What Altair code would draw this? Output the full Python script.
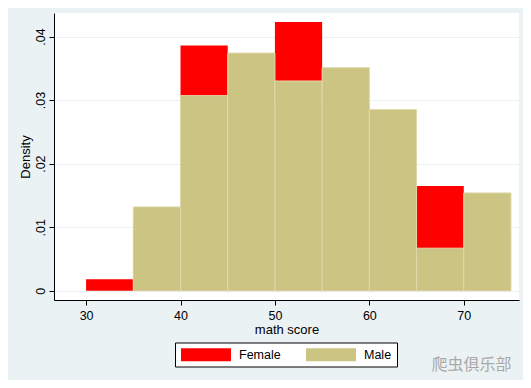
import altair as alt
import pandas as pd

# ---- data ----
bin_starts = [30, 35, 40, 45, 50, 55, 60, 65, 70]
bin_width = 5
female_density = [0.0018, 0.0110, 0.0386, 0.0294, 0.0423, 0.0294, 0.0220, 0.0165, 0.0092]
male_density = [0.0, 0.0132, 0.0307, 0.0374, 0.0330, 0.0351, 0.0285, 0.0067, 0.0154]
groups = ["Female", "Male"]
x_ticks = [30, 40, 50, 60, 70]
y_ticks = [0, 0.01, 0.02, 0.03, 0.04]
watermark = "爬虫俱乐部"

rows = []
for g, dens in zip(groups, [female_density, male_density]):
    for s, d in zip(bin_starts, dens):
        if d > 0:
            rows.append({"group": g, "start": s, "end": s + bin_width, "density": d})
df = pd.DataFrame(rows)

FONT = "Liberation Sans"
BG = "#eaf2f3"

bars = alt.Chart(df).mark_bar(strokeWidth=1, cornerRadius=0).encode(
    x=alt.X(
        "start:Q",
        scale=alt.Scale(domain=[26.6, 75.85], nice=False, zero=False),
        axis=alt.Axis(
            values=x_ticks, title="math score", grid=False, format="d",
            tickSize=5, tickColor="black", domainColor="black",
            labelFont=FONT, labelFontSize=12.5, labelColor="black",
            labelBaseline="alphabetic", labelPadding=14,
            titleFont=FONT, titleFontSize=13, titleFontWeight="normal",
            titleColor="black", titleBaseline="alphabetic", titleY=33.5,
        ),
    ),
    x2="end:Q",
    y=alt.Y(
        "density:Q",
        stack=None,
        scale=alt.Scale(domain=[-0.00145, 0.0437], nice=False, zero=False),
        axis=alt.Axis(
            values=y_ticks, title="Density", grid=True, gridColor=BG,
            labelExpr="datum.value == 0 ? '0' : replace(format(datum.value, '.2f'), '0.', '.')",
            labelAngle=270, labelAlign="center", labelBaseline="alphabetic",
            labelPadding=5, tickSize=5, tickColor="black", domainColor="black",
            labelFont=FONT, labelFontSize=12.5, labelColor="black",
            titleFont=FONT, titleFontSize=13, titleFontWeight="normal",
            titleColor="black", titleAngle=270, titleAlign="center",
            titleBaseline="alphabetic", titleX=-25, titleY=143.5,
        ),
    ),
    y2=alt.datum(0),
    color=alt.Color(
        "group:N",
        scale=alt.Scale(domain=groups, range=["#ff0000", "#cbc483"]),
        legend=alt.Legend(
            title=None, orient="none", legendX=121, legendY=329.5,
            direction="horizontal", columns=2,
            symbolType="M-3.571,-0.929H3.571V0.929H-3.571Z", symbolSize=196,
            symbolOffset=19, symbolStrokeWidth=0, symbolOpacity=1,
            labelFont=FONT, labelFontSize=12.5, labelColor="black",
            labelOffset=26, columnPadding=24, padding=5,
            strokeColor="black", fillColor="white",
        ),
    ),
    stroke=alt.Stroke(
        "group:N",
        scale=alt.Scale(domain=groups, range=["transparent", "#e0d9ab"]),
        legend=None,
    ),
)

wm = alt.Chart(pd.DataFrame({"t": [watermark]})).mark_text(
    font="Noto Sans CJK SC", fontSize=16, color="#a9a9a9",
    align="left", baseline="middle",
).encode(text="t:N", x=alt.value(377.5), y=alt.value(352))

chart = alt.layer(bars, wm).properties(
    width=465,
    height=287,
    autosize=alt.AutoSizeParams(type="none"),
    padding={"left": 46, "top": 5, "right": 4, "bottom": 80},
    background=BG,
).configure_view(fill="white", strokeWidth=0)

chart.save("out.html", embed_options={"renderer": "svg", "actions": False})
